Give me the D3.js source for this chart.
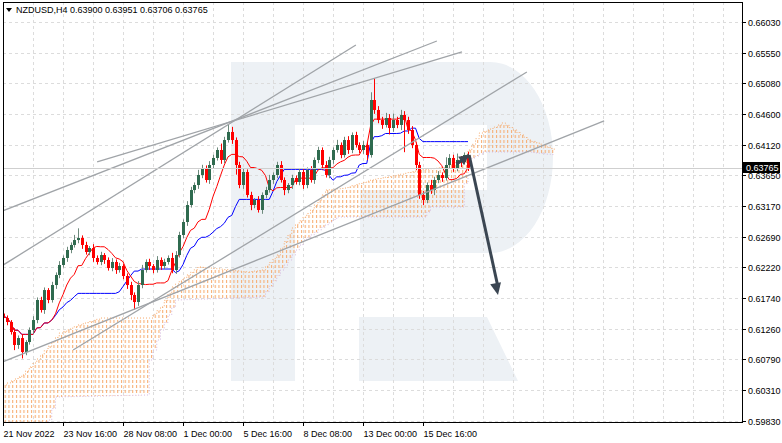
<!DOCTYPE html>
<html><head><meta charset="utf-8">
<script src="https://cdn.jsdelivr.net/npm/d3@7"></script>
<style>body{margin:0;background:#fff}svg{display:block}text{font-family:"Liberation Sans",Arial,sans-serif}</style>
</head><body><svg id="c" width="782" height="443"></svg>
<script>
const firstOpen = 0.6150;
const closes = [0.61430,0.61368,0.61213,0.61011,0.61119,0.60902,0.61057,0.61244,0.61399,0.61710,
0.61555,0.61865,0.61710,0.61943,0.62099,0.62254,0.62363,0.62487,0.62565,0.62642,
0.62674,0.62565,0.62456,0.62518,0.62363,0.62301,0.62409,0.62332,0.62207,0.62301,
0.62176,0.62238,0.62083,0.61943,0.61788,0.61679,0.61943,0.62176,0.62301,0.62238,
0.62176,0.62332,0.62238,0.62301,0.62363,0.62176,0.62409,0.62720,0.62922,0.63186,
0.63419,0.63497,0.63653,0.63761,0.63575,0.63808,0.63917,0.64041,0.63886,0.64196,
0.64321,0.64196,0.63808,0.63497,0.63699,0.63342,0.63186,0.63264,0.63109,0.63342,
0.63419,0.63575,0.63653,0.63808,0.63575,0.63419,0.63497,0.63606,0.63544,0.63699,
0.63497,0.63730,0.63575,0.63886,0.64041,0.63808,0.63653,0.63886,0.64041,0.64119,
0.63963,0.64196,0.64041,0.64274,0.64119,0.64041,0.64119,0.63963,0.64818,0.64663,
0.64507,0.64430,0.64538,0.64383,0.64507,0.64430,0.64585,0.64507,0.64352,0.64119,
0.63808,0.63342,0.63264,0.63497,0.63419,0.63575,0.63653,0.63606,0.63808,0.63917,
0.63761,0.63886,0.63855,0.63963,0.63765];
const upWickPips = [5,4,3,6,4,5,3,4,6,4, 5,4,3,5,4,6,4,5,4,8, 15,4,5,3,6,4,5,3,4,6, 4,5,3,4,5,4,6,8,4,5,
3,6,4,5,4,8,6,5,4,6, 5,4,8,5,4,6,5,4,10,5, 11,8,4,5,6,4,5,3,6,4, 5,8,4,5,6,4,3,5,4,6,
5,4,6,4,5,4,6,5,4,8, 4,5,6,4,5,4,6,5,12,34, 6,5,8,6,10,5,8,6,5,6, 4,5,6,4,8,5,6,4,12,6, 5,10,6,4,5];
const downWickPips = [6,5,4,8,6,10,5,4,6,5, 4,6,5,4,6,5,4,6,5,4, 5,6,4,5,6,4,5,6,4,5, 6,4,5,6,8,12,6,5,4,6,
5,4,6,5,4,5,6,4,5,6, 4,5,6,5,4,6,5,4,6,5, 4,6,15,5,6,4,8,5,4,6, 5,4,6,5,4,8,5,6,4,5,
6,5,4,6,5,8,4,5,6,4, 5,4,6,5,4,5,6,8,4,6, 5,6,4,10,6,5,8,50,6,5, 8,6,8,5,6,8,5,6,4,5, 6,5,8,4,5];
const cloudIdx = [0,5,10,15,20,26,31,37,39,42,45,49,52,55,60,65,69,73,77,82,86,91,98,105,111,118,122,124,127,131,133,136,140,145,147];
const cloudTop = [0.60389,0.60545,0.60855,0.61197,0.61322,0.61430,0.61430,0.61430,0.61430,0.61601,0.61912,0.62099,0.62223,0.62207,0.62176,0.62145,0.62176,0.62409,0.62829,0.63109,0.63419,0.63450,0.63575,0.63653,0.63730,0.63777,0.63917,0.64041,0.64305,0.64398,0.64461,0.64352,0.64196,0.64088,0.64041];
const cloudBotIdx = [0,10,12,14,38,39,42,46,69,74,80,89,112,114,122,124,128,140,147];
const cloudBot = [0.59534,0.59690,0.59845,0.60203,0.60234,0.60778,0.61244,0.61710,0.61757,0.62176,0.62642,0.63000,0.63000,0.63155,0.63155,0.63886,0.64010,0.64010,0.63963];
const priceTicks = [0.66030,0.65550,0.65080,0.64600,0.64120,0.63650,0.63170,0.62690,0.62220,0.61740,0.61260,0.60790,0.60310,0.59830];
const timeLabels = ["21 Nov 2022","23 Nov 16:00","28 Nov 08:00","1 Dec 00:00","5 Dec 16:00","8 Dec 08:00","13 Dec 00:00","15 Dec 16:00"];
const timeLabelIdx = [0,16,32,48,64,80,96,112];
const trendLines = [[-0.8,0.62223,94.1,0.65673],[-0.8,0.63078,115.7,0.65735],[25.1,0.63855,122.4,0.65564],[18.7,0.60933,139.7,0.65253],[-0.8,0.60731,160.3,0.64492]];
const arrowPts = [[121,0.63824],[124.3,0.63963],[132,0.61788]];
const lastPrice = 0.63765;

const svg = d3.select("#c");
const L=3,R=742,T=2,B=422;
const x = d3.scaleLinear().domain([0,16]).range([3,63]);
const y = d3.scaleLinear().domain([0.5983,0.6603]).range([421,22]);

// watermark
svg.append("path").attr("fill","#edf1f5")
 .attr("d","M231,62 H490 A63,95 0 0 1 553,157 A63,96 0 0 1 490,253 H360 V190 H487 V125 H295 V381 H231 Z");
svg.append("path").attr("fill","#edf1f5").attr("d","M359,317 H487 L518,381 H359 Z");

const g = svg.append("g");
const gridH = g.append("g").attr("stroke","#dcdcdc").attr("stroke-dasharray","3,3");
priceTicks.forEach(p=>gridH.append("line").attr("x1",L).attr("x2",R).attr("y1",Math.round(y(p))+0.5).attr("y2",Math.round(y(p))+0.5));
d3.range(0,200,8).forEach(i=>{ if(x(i)>L+1&&x(i)<R) gridH.append("line").attr("y1",T).attr("y2",B).attr("x1",Math.round(x(i))+0.5).attr("x2",Math.round(x(i))+0.5);});

const defs = svg.append("defs");
const pat = defs.append("pattern").attr("id","dots").attr("patternUnits","userSpaceOnUse").attr("width",3.75).attr("height",5);
pat.append("rect").attr("x",1).attr("y",0).attr("width",1).attr("height",3).attr("fill","#f7a868");
const clip = defs.append("clipPath").attr("id","pc"); clip.append("rect").attr("x",L).attr("y",T).attr("width",R-L).attr("height",B-T);
const pg = svg.append("g").attr("clip-path","url(#pc)");

const topF = d3.scaleLinear().domain(cloudIdx).range(cloudTop);
const botF = d3.scaleLinear().domain(cloudBotIdx).range(cloudBot);
const cx = d3.range(0,148);
pg.append("path").attr("fill","url(#dots)")
 .attr("d",d3.area().x(i=>x(i)).y0(i=>y(botF(i))).y1(i=>y(topF(i))).curve(d3.curveStepAfter)(cx));
pg.append("path").attr("fill","none").attr("stroke","#f7a868").attr("stroke-dasharray","1,2")
 .attr("d",d3.line().x(i=>x(i)).y(i=>y(topF(i))).curve(d3.curveStepAfter)(cx));
pg.append("path").attr("fill","none").attr("stroke","#d4b8e0").attr("stroke-dasharray","1,2")
 .attr("d",d3.line().x(i=>x(i)).y(i=>y(botF(i))).curve(d3.curveStepAfter)(cx));

const bars = closes.map((c,i)=>{const o=i?closes[i-1]:firstOpen;return {i,o,c,h:Math.max(o,c)+upWickPips[i]*1e-4,l:Math.min(o,c)-downWickPips[i]*1e-4};});
function mid(i,n){const s=bars.slice(Math.max(0,i-n+1),i+1);return (d3.max(s,d=>d.h)+d3.min(s,d=>d.l))/2;}
const tenkan = bars.map(d=>mid(d.i,9)), kijun = bars.map(d=>mid(d.i,26));
const ln = d3.line().x((v,i)=>x(i)).y(v=>y(v));
pg.append("path").attr("fill","none").attr("stroke","#0000ff").attr("stroke-width",1).attr("d",ln(kijun));
pg.append("path").attr("fill","none").attr("stroke","#ff0000").attr("stroke-width",1).attr("d",ln(tenkan));

const cg = pg.append("g");
bars.forEach(d=>{
  const up=d.c>=d.o, col=up?"#2f6b4f":"#ff0000", xc=Math.round(x(d.i))+0.5;
  cg.append("line").attr("x1",xc).attr("x2",xc).attr("y1",y(d.h)).attr("y2",y(d.l)).attr("stroke",up?"#6d8a7c":"#ff0000");
  cg.append("rect").attr("x",xc-1.5).attr("width",3).attr("y",y(Math.max(d.o,d.c))).attr("height",Math.max(1,Math.abs(y(d.o)-y(d.c)))).attr("fill",col);
});

trendLines.forEach(t=>pg.append("line").attr("x1",x(t[0])).attr("y1",y(t[1])).attr("x2",x(t[2])).attr("y2",y(t[3])).attr("stroke","#a0a4a8").attr("stroke-width",1.3));

pg.append("line").attr("x1",L).attr("x2",R).attr("y1",Math.round(y(lastPrice))+0.5).attr("y2",Math.round(y(lastPrice))+0.5).attr("stroke","#cfcfcf");

const ac="#3b4652";
const ap = arrowPts.map(p=>[x(p[0]),y(p[1])]);
pg.append("line").attr("x1",ap[1][0]).attr("y1",ap[1][1]).attr("x2",ap[2][0]).attr("y2",ap[2][1]-8).attr("stroke",ac).attr("stroke-width",3);
function head(from,to,len,w){const a=Math.atan2(to[1]-from[1],to[0]-from[0]);const bx=to[0]-len*Math.cos(a),by=to[1]-len*Math.sin(a);
 const px=-Math.sin(a)*w,py=Math.cos(a)*w;return `M${to[0]},${to[1]}L${bx+px},${by+py}L${bx-px},${by-py}Z`;}
pg.append("path").attr("fill",ac).attr("d",head(ap[1],ap[2],12,5.5));
pg.append("line").attr("x1",ap[0][0]).attr("y1",ap[0][1]).attr("x2",ap[1][0]).attr("y2",ap[1][1]).attr("stroke",ac).attr("stroke-width",3);
pg.append("path").attr("fill",ac).attr("d",head(ap[0],ap[1],10,5));

svg.append("rect").attr("x",L+0.5).attr("y",T+0.5).attr("width",R-L).attr("height",B-T).attr("fill","none").attr("stroke","#000");
priceTicks.forEach(p=>{const yy=Math.round(y(p))+0.5;
 svg.append("line").attr("x1",R).attr("x2",R+4).attr("y1",yy).attr("y2",yy).attr("stroke","#000");
 svg.append("text").attr("x",R+6).attr("y",yy+3.5).attr("font-size",9).attr("fill","#000").text(p.toFixed(5));});
const ly=Math.round(y(lastPrice));
svg.append("rect").attr("x",R+1).attr("y",ly-6).attr("width",37).attr("height",11).attr("fill","#000");
svg.append("text").attr("x",R+4).attr("y",ly+3).attr("font-size",9).attr("fill","#fff").text(lastPrice.toFixed(5));
timeLabelIdx.forEach((i,k)=>{const xx=Math.round(x(i))+0.5;
 svg.append("line").attr("x1",xx).attr("x2",xx).attr("y1",B).attr("y2",B+4).attr("stroke","#000");
 svg.append("text").attr("x",xx).attr("y",437).attr("font-size",9).attr("fill","#000").text(timeLabels[k]);});
svg.append("path").attr("d","M6,8 L12,8 L9,12 Z").attr("fill","#000");
svg.append("text").attr("x",16).attr("y",13).attr("font-size",9).attr("fill","#000").text("NZDUSD,H4  0.63900 0.63951 0.63706 0.63765");
</script></body></html>
